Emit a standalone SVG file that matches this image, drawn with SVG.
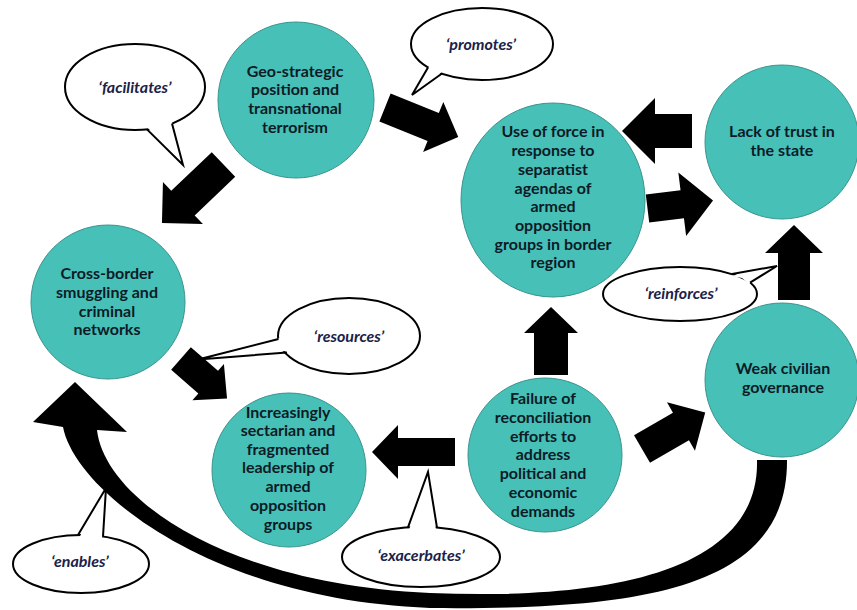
<svg xmlns="http://www.w3.org/2000/svg" width="857" height="610" viewBox="0 0 857 610">
<style>
.node{fill:#47c0b8;stroke:#3a948e;stroke-width:1}
.nt{font-family:Lato,"Liberation Sans",sans-serif;font-weight:bold;font-size:16px;fill:#0d1b26;text-anchor:middle}
.arr{fill:#000}
.bub{fill:#fff;stroke:#000;stroke-width:2}
.wedge{fill:#fff;stroke:none}
.ptr{fill:none;stroke:#000;stroke-width:2;stroke-linejoin:miter}
.lt{font-family:Lato,"Liberation Sans",sans-serif;font-weight:bold;font-style:italic;font-size:16px;fill:#1b2148;text-anchor:middle}
</style>
<rect width="857" height="610" fill="#fff"/>

<g id="node-geo">
<circle class="node" cx="296" cy="100" r="78"/>
<text class="nt" x="295" y="77">Geo-strategic</text>
<text class="nt" x="295" y="95">position and</text>
<text class="nt" x="295" y="114">transnational</text>
<text class="nt" x="295" y="133">terrorism</text>
</g>
<g id="node-force">
<ellipse class="node" cx="553" cy="200" rx="92" ry="97"/>
<text class="nt" x="553" y="137">Use of force in</text>
<text class="nt" x="553" y="156">response to</text>
<text class="nt" x="553" y="175">separatist</text>
<text class="nt" x="553" y="194">agendas of</text>
<text class="nt" x="553" y="212">armed</text>
<text class="nt" x="553" y="231">opposition</text>
<text class="nt" x="553" y="250">groups in border</text>
<text class="nt" x="553" y="268">region</text>
</g>
<g id="node-trust">
<circle class="node" cx="782" cy="142" r="77"/>
<text class="nt" x="782" y="137">Lack of trust in</text>
<text class="nt" x="782" y="156">the state</text>
</g>
<g id="node-weak">
<circle class="node" cx="782" cy="380" r="77"/>
<text class="nt" x="783" y="374">Weak civilian</text>
<text class="nt" x="783" y="393">governance</text>
</g>
<g id="node-failure">
<circle class="node" cx="545" cy="455" r="77"/>
<text class="nt" x="543" y="404">Failure of</text>
<text class="nt" x="543" y="423">reconciliation</text>
<text class="nt" x="543" y="442">efforts to</text>
<text class="nt" x="543" y="460">address</text>
<text class="nt" x="543" y="479">political and</text>
<text class="nt" x="543" y="498">economic</text>
<text class="nt" x="543" y="517">demands</text>
</g>
<g id="node-sectarian">
<circle class="node" cx="289" cy="470" r="77"/>
<text class="nt" x="288" y="418">Increasingly</text>
<text class="nt" x="288" y="436">sectarian and</text>
<text class="nt" x="288" y="455">fragmented</text>
<text class="nt" x="288" y="473">leadership of</text>
<text class="nt" x="288" y="492">armed</text>
<text class="nt" x="288" y="511">opposition</text>
<text class="nt" x="288" y="530">groups</text>
</g>
<g id="node-smuggling">
<circle class="node" cx="108" cy="302" r="77"/>
<text class="nt" x="107" y="279">Cross-border</text>
<text class="nt" x="107" y="298">smuggling and</text>
<text class="nt" x="107" y="317">criminal</text>
<text class="nt" x="107" y="335">networks</text>
</g>

<g id="connectors">
<path class="arr" transform="translate(223.5,164.5) rotate(136.4)" d="M0,-17 L56,-17 L56,-29 L85,0 L56,29 L56,17 L0,17Z"/>
<path class="arr" transform="translate(385,107.5) rotate(22)" d="M0,-15 L52,-15 L52,-27 L79,0 L52,27 L52,15 L0,15Z"/>
<path class="arr" transform="translate(692,131) rotate(180)" d="M0,-17 L37,-17 L37,-33 L70,0 L37,33 L37,17 L0,17Z"/>
<path class="arr" transform="translate(647.5,208.5) rotate(-7)" d="M0,-14 L35,-14 L35,-32 L66,0 L35,32 L35,14 L0,14Z"/>
<path class="arr" transform="translate(794,300) rotate(-90)" d="M0,-16 L47,-16 L47,-29 L75,0 L47,29 L47,16 L0,16Z"/>
<path class="arr" transform="translate(551,375) rotate(-90)" d="M0,-17 L42,-17 L42,-27 L68,0 L42,27 L42,17 L0,17Z"/>
<path class="arr" transform="translate(642,449) rotate(-30)" d="M0,-16 L45,-16 L45,-28 L73,0 L45,28 L45,16 L0,16Z"/>
<path class="arr" transform="translate(455,452) rotate(180)" d="M0,-14 L57,-14 L57,-27 L83,0 L57,27 L57,14 L0,14Z"/>
<path class="arr" transform="translate(181,358.5) rotate(41)" d="M0,-15 L36,-15 L36,-24 L61,0 L36,24 L36,15 L0,15Z"/>
<path class="arr" d="M787,460 C788,590 640,610 430,608 C210,600 75,490 63,427 L33,422 L75,382 L127,432 L97,430 C105,500 230,585 430,593 C600,600 760,575 757,460Z"/>
</g>

<g id="labels">
<g id="lbl-facilitates">
<ellipse class="bub" cx="135" cy="87" rx="70" ry="43"/>
<polygon class="wedge" points="147,127 183,165 172,122 160,122"/>
<polyline class="ptr" points="147,129.4 183,165 172,123.5"/>
<text class="lt" x="135" y="93">‘facilitates’</text>
</g>
<g id="lbl-promotes">
<ellipse class="bub" cx="482" cy="44" rx="71" ry="36"/>
<polygon class="wedge" points="430,65 412,95 442,72 436,66"/>
<polyline class="ptr" points="428,67.4 412,95 442,73.5"/>
<text class="lt" x="481" y="50">‘promotes’</text>
</g>
<g id="lbl-reinforces">
<ellipse class="bub" cx="680" cy="294" rx="77" ry="27"/>
<polygon class="wedge" points="731,276 777,266 749,284 742,278"/>
<polyline class="ptr" points="732,274 777,266 750,282.7"/>
<text class="lt" x="681" y="299">‘reinforces’</text>
</g>
<g id="lbl-resources">
<ellipse class="bub" cx="349" cy="336" rx="71" ry="38"/>
<polygon class="wedge" points="280,338 198,360 286,351"/>
<polyline class="ptr" points="278.5,339 198,359.5 287,352.5"/>
<polygon fill="#fff" points="211,361 222,360 217,366"/>
<text class="lt" x="349" y="342">‘resources’</text>
</g>
<g id="lbl-exacerbates">
<ellipse class="bub" cx="421" cy="557" rx="79" ry="30"/>
<polygon class="wedge" points="409,530 428,472 436,530"/>
<polyline class="ptr" points="408,527.4 428,472 437,527.6"/>
<text class="lt" x="421" y="561">‘exacerbates’</text>
</g>
<g id="lbl-enables">
<ellipse class="bub" cx="81" cy="564" rx="68" ry="29"/>
<polygon class="wedge" points="79,538 106,488 102,539"/>
<polyline class="ptr" points="78,535 106,488 103,536.6"/>
<text class="lt" x="80" y="567">‘enables’</text>
</g>
</g>
</svg>
